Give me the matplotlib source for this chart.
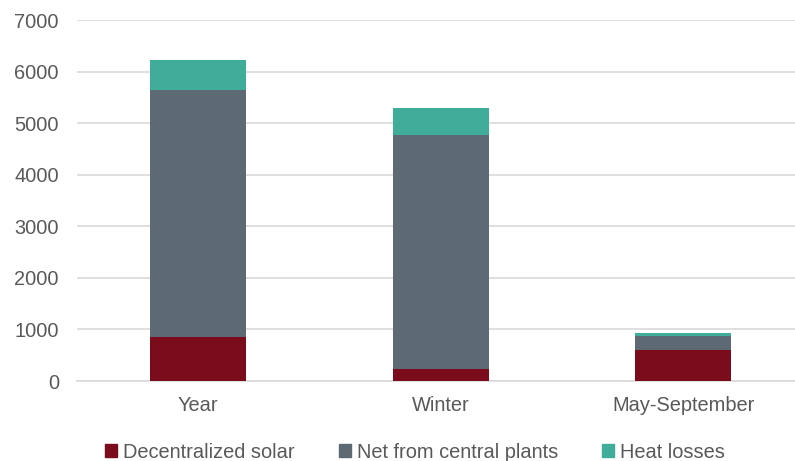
import numpy as np
import matplotlib.pyplot as plt
from matplotlib.patches import Patch

categories = ['Year', 'Winter', 'May-September']
solar = [850, 230, 610]
net_central = [4790, 4540, 255]
heat_losses = [585, 525, 72]

series = [('Decentralized solar', solar, '#7B0C1C'),
          ('Net from central plants', net_central, '#5E6A73'),
          ('Heat losses', heat_losses, '#40AC9A')]

plt.rcParams['font.family'] = ['Liberation Sans', 'DejaVu Sans']

fig = plt.figure(figsize=(7.95, 4.61), dpi=100)
ax = fig.add_axes([77/795, 80/461, 1 - 77/795, 361/461])

x = np.arange(len(categories))
bottom = np.zeros(len(categories))
for name, vals, col in series:
    ax.bar(x, vals, 0.396, bottom=bottom, color=col, label=name, zorder=3)
    bottom += np.array(vals)

ax.set_xlim(-0.5, 2.46)
ax.set_ylim(0, 7000)
ax.set_yticks(range(0, 7001, 1000))
ax.set_xticks(x)
ax.set_xticklabels(categories)
ax.grid(axis='y', color='#D9D9D9', linewidth=1.2, zorder=0)
for s in ('top', 'right', 'left'):
    ax.spines[s].set_visible(False)
ax.spines['bottom'].set_color('#D9D9D9')
ax.spines['bottom'].set_linewidth(1.2)
ax.tick_params(axis='y', length=0, pad=13, labelsize=14.4, labelcolor='#595959')
ax.tick_params(axis='x', length=0, pad=11, labelsize=14.4, labelcolor='#595959')

handles = [Patch(color=col, label=name) for name, _, col in series]
fig.legend(handles=handles, loc='center', bbox_to_anchor=(0.522, 9/461), ncol=3,
           frameon=False, fontsize=14.4, labelcolor='#595959',
           handlelength=0.6, handleheight=0.6, handletextpad=0.3, columnspacing=2.2)

fig.savefig('out.png', dpi=100)
